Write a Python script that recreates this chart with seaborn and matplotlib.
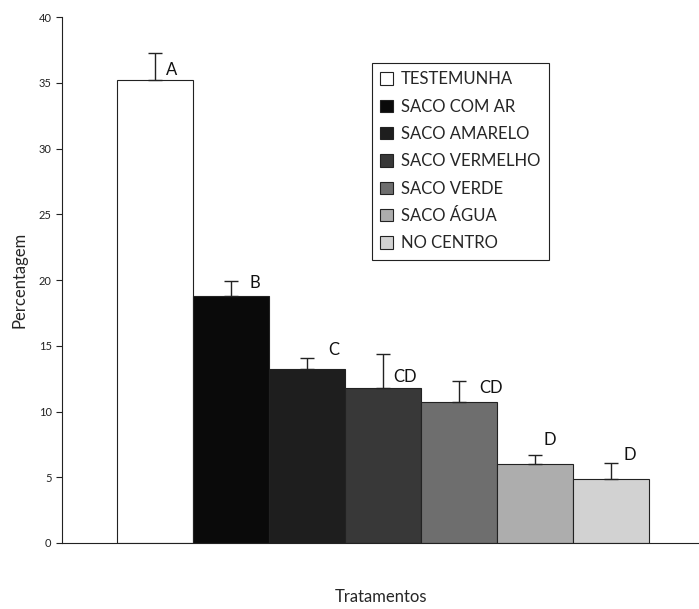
import matplotlib
matplotlib.use("Agg")
import matplotlib.pyplot as plt
import seaborn as sns
import pandas as pd
from matplotlib.patches import Patch

categorias = ["TESTEMUNHA", "SACO COM AR", "SACO AMARELO", "SACO VERMELHO",
              "SACO VERDE", "SACO ÁGUA", "NO CENTRO"]
valores = [35.2, 18.8, 13.2, 11.8, 10.7, 6.0, 4.9]
erros = [2.1, 1.1, 0.9, 2.6, 1.6, 0.7, 1.2]
letras = ["A", "B", "C", "CD", "CD", "D", "D"]
cores = ["#ffffff", "#0a0a0a", "#1e1e1e", "#383838", "#6e6e6e", "#adadad", "#d2d2d2"]

# placement of the significance letters (offsets relative to each bar / error top)
letra_dx = [0.22, 0.32, 0.36, 0.29, 0.42, 0.20, 0.25]
letra_dy = [-1.3, -0.1, 0.6, -1.8, -0.5, 1.1, 0.6]

df = pd.DataFrame({"Tratamento": categorias, "Percentagem": valores})

sns.set_style("ticks")
plt.rcParams["font.family"] = ["Lato", "DejaVu Sans"]

fig = plt.figure(figsize=(6.99, 6.09), dpi=100)
ax = fig.add_axes([0.0887, 0.1084, 0.9113, 0.8636])

sns.barplot(data=df, x="Tratamento", y="Percentagem", hue="Tratamento",
            palette=cores, dodge=False, width=1.0, edgecolor="#222222",
            linewidth=0.8, legend=False, ax=ax)

xs = list(range(len(categorias)))
ax.errorbar(xs, valores, yerr=[[0] * len(erros), erros], fmt="none",
            ecolor="#222222", elinewidth=1.0, capsize=5, capthick=1.0)

for x, v, e, l, dx, dy in zip(xs, valores, erros, letras, letra_dx, letra_dy):
    ax.text(x + dx, v + e + dy, l, ha="center", va="center", fontsize=12,
            color="#111111")

ax.set_xlim(-1.22, 7.16)
ax.set_ylim(0, 40)
ax.set_yticks(range(0, 41, 5))
ax.set_xticks([])
ax.tick_params(axis="y", labelsize=8, length=4, width=0.8, colors="#222222")
ax.set_ylabel("Percentagem", fontsize=12, labelpad=8)
ax.set_xlabel("Tratamentos", fontsize=12, labelpad=33)
for s in ["top", "right"]:
    ax.spines[s].set_visible(False)
for s in ["left", "bottom"]:
    ax.spines[s].set_linewidth(0.8)
    ax.spines[s].set_color("#222222")

handles = [Patch(facecolor=c, edgecolor="#222222", linewidth=0.8, label=n)
           for c, n in zip(cores, categorias)]
leg = ax.legend(handles=handles, loc="upper left",
                bbox_to_anchor=(0.532, 0.8966), bbox_transform=fig.transFigure,
                fontsize=12, frameon=True, fancybox=False, framealpha=1,
                edgecolor="#222222", handlelength=0.75, handleheight=0.75,
                handletextpad=0.5, labelspacing=0.68, borderpad=0.5,
                borderaxespad=0)
leg.get_frame().set_linewidth(0.8)

fig.savefig("out.png", dpi=100)
